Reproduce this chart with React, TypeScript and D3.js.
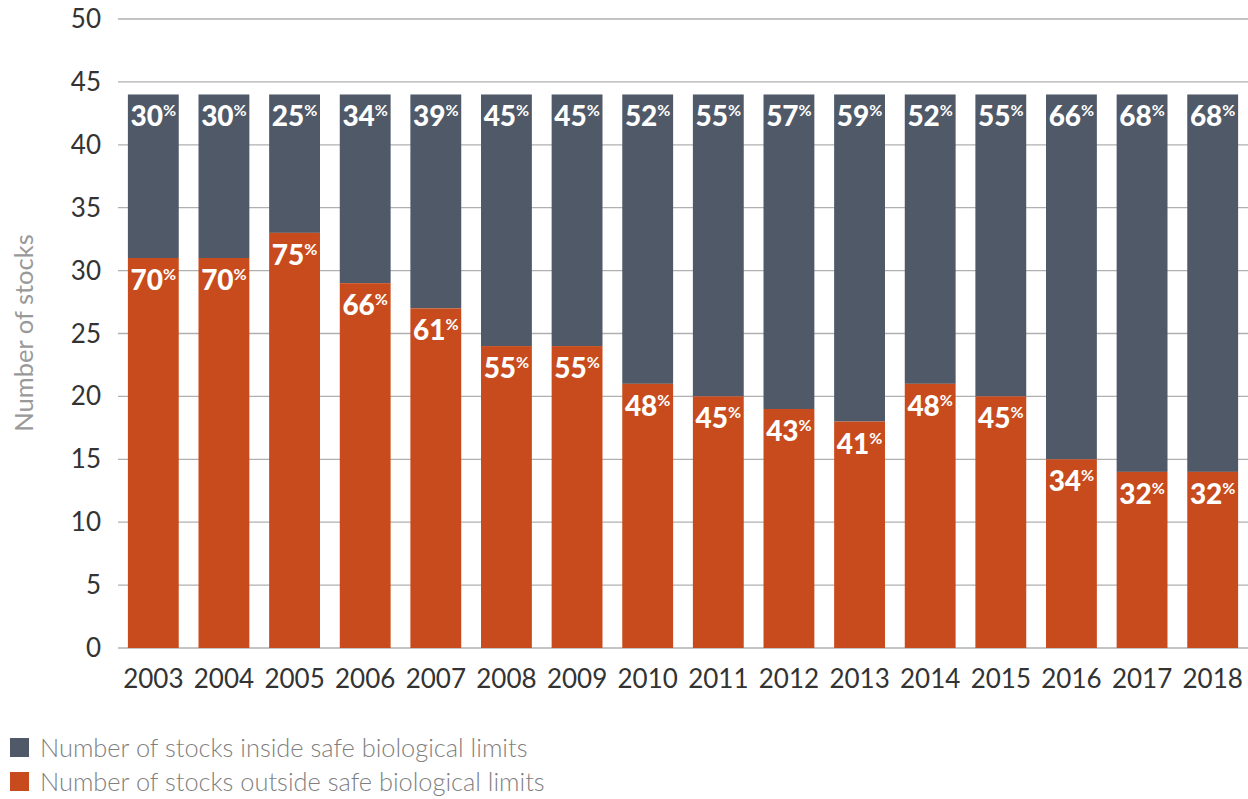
import React from "react";
import * as d3 from "d3";

const years = ["2003","2004","2005","2006","2007","2008","2009","2010","2011","2012","2013","2014","2015","2016","2017","2018"];
const outsideStocks = [31,31,33,29,27,24,24,21,20,19,18,21,20,15,14,14];
const insideStocks = [13,13,11,15,17,20,20,23,24,25,26,23,24,29,30,30];
const outsidePct = [70,70,75,66,61,55,55,48,45,43,41,48,45,34,32,32];
const insidePct = [30,30,25,34,39,45,45,52,55,57,59,52,55,66,68,68];
const yTicks = [0,5,10,15,20,25,30,35,40,45,50];
const legendLabels = ["Number of stocks inside safe biological limits", "Number of stocks outside safe biological limits"];

const W = 1248, H = 799;
const C_IN = "#4f5968";
const C_OUT = "#c84b1d";
const FONT = "Lato, 'Open Sans', sans-serif";

export default function App() {
  const x = d3.scaleBand<string>().domain(years).range([118, 1248]).paddingInner(0.28).paddingOuter(0.14);
  const y = d3.scaleLinear().domain([0, 50]).range([648, 19]);
  const bw = x.bandwidth();

  const label = (pct: number, cx: number, topY: number, key: string) => (
    <text key={key} x={cx} y={topY + 32} textAnchor="middle" fill="#fff" fontFamily={FONT} fontWeight={900} fontSize={28}>
      {pct}
      <tspan fontSize={16} fontWeight={700} dy={-10}>%</tspan>
    </text>
  );

  return (
    <svg width={W} height={H} style={{ position: "absolute", left: 0, top: 0, background: "#fff" }}>
      {yTicks.map((t) => (
        <g key={t}>
          <line x1={118} x2={1248} y1={y(t)} y2={y(t)} stroke="#b0b0b0" strokeWidth={1.3} />
          <text x={101} y={y(t) + 9} textAnchor="end" fontFamily={FONT} fontSize={26} fill="#333">{t}</text>
        </g>
      ))}
      <text transform={`translate(33, 333) rotate(-90)`} x={0} y={0} textAnchor="middle" fontFamily={FONT} fontSize={25.5} fill="#999">
        Number of stocks
      </text>
      {years.map((yr, i) => {
        const x0 = x(yr)!;
        const o = outsideStocks[i];
        const ins = insideStocks[i];
        return (
          <g key={yr}>
            <rect x={x0} width={bw} y={y(o + ins)} height={y(o) - y(o + ins)} fill={C_IN} />
            <rect x={x0} width={bw} y={y(o)} height={y(0) - y(o)} fill={C_OUT} />
            {label(insidePct[i], x0 + bw / 2, y(o + ins), "i")}
            {label(outsidePct[i], x0 + bw / 2, y(o), "o")}
            <text x={x0 + bw / 2} y={688} textAnchor="middle" fontFamily={FONT} fontSize={26} fill="#333">{yr}</text>
          </g>
        );
      })}
      {legendLabels.map((l, i) => (
        <g key={l}>
          <rect x={10} y={738 + i * 34} width={19} height={19} fill={i === 0 ? C_IN : C_OUT} />
          <text x={40} y={757 + i * 34} fontFamily={FONT} fontSize={25.4} fontWeight={300} fill="#7f7f7f">{l}</text>
        </g>
      ))}
    </svg>
  );
}
